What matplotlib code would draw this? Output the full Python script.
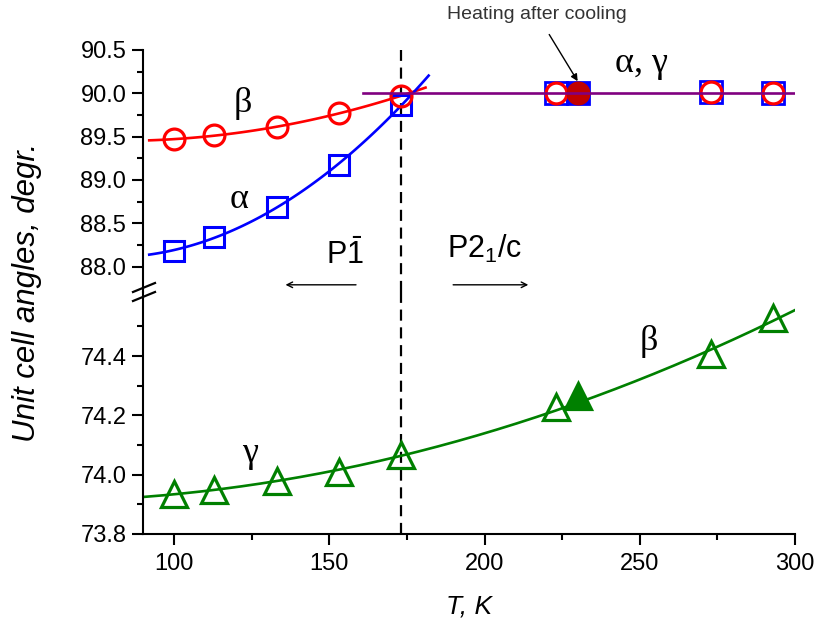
import numpy as np
import matplotlib.pyplot as plt
from matplotlib.ticker import MultipleLocator, FixedLocator

plt.rcParams['font.family'] = ['Liberation Sans', 'DejaVu Sans']
plt.rcParams['mathtext.fontset'] = 'custom'
plt.rcParams['mathtext.rm'] = 'Liberation Sans'
plt.rcParams['mathtext.it'] = 'Liberation Sans:italic'

# triclinic phase (P-1), low temperature
T_low = [100, 113, 133, 153, 173]
beta_low = [89.47, 89.515, 89.61, 89.77, 89.97]
alpha_low = [88.185, 88.34, 88.69, 89.17, 89.86]
gamma_low = [73.935, 73.95, 73.978, 74.009, 74.066]

# monoclinic phase (P21/c), high temperature
T_high = [223, 273, 293]
alpha_high = [90.0, 90.01, 90.0]
gamma_high = [90.0, 90.01, 90.0]
beta_high = [74.227, 74.406, 74.528]

# heating after cooling
T_heat = [230]
alpha_heat = [90.0]
gamma_heat = [90.0]
beta_heat = [74.267]

T_transition = 173
mono_T = [161, 300]
mono_angle = [90.0, 90.0]

top_ticks = [88.0, 88.5, 89.0, 89.5, 90.0, 90.5]
bot_ticks = [73.8, 74.0, 74.2, 74.4]

fig = plt.figure(figsize=(8.21, 6.23), dpi=100)
ax_top = fig.add_axes([0.1742, 1 - 292 / 623, 0.7941, (292 - 50) / 623])
ax_bot = fig.add_axes([0.1742, 1 - 534 / 623, 0.7941, (534 - 292) / 623])

# fit curves (quadratic fits of the measured points)
t1 = np.linspace(92, 181, 100)
p = np.polyfit(T_low, beta_low, 2)
ax_top.plot(t1, np.polyval(p, t1), color='red', lw=1.9, zorder=2)
t2 = np.linspace(92, 182, 100)
p = np.polyfit(T_low, alpha_low, 2)
ax_top.plot(t2, np.polyval(p, t2), color='blue', lw=1.9, zorder=2)
ax_top.plot(mono_T, mono_angle, color='purple', lw=1.9, zorder=4)

T_g = T_low + T_high
g_all = gamma_low + beta_high
t3 = np.linspace(90, 300, 200)
p = np.polyfit(T_g, g_all, 2)
ax_bot.plot(t3, np.polyval(p, t3), color='green', lw=1.9, zorder=2)

# markers
ax_top.plot(T_low, alpha_low, 's', ms=15, mfc='none', mec='blue', mew=2.2, zorder=3)
ax_top.plot(T_low, beta_low, 'o', ms=15, mfc='none', mec='red', mew=2.3, zorder=3)
ax_top.plot(T_high, alpha_high, 's', ms=15.5, mfc='none', mec='blue', mew=2.0, zorder=3)
ax_top.plot(T_heat, alpha_heat, 's', ms=15.5, mfc='blue', mec='blue', mew=2.0, zorder=3)
ax_top.plot(T_high, gamma_high, 'o', ms=15, mfc='none', mec='red', mew=2.3, zorder=3)
ax_top.plot(T_heat, gamma_heat, 'o', ms=15, mfc='#C00000', mec='#C00000', mew=2.3, zorder=3)

ax_bot.plot(T_low, gamma_low, '^', ms=19, mfc='none', mec='green', mew=2.3, zorder=3)
ax_bot.plot(T_high, beta_high, '^', ms=19, mfc='none', mec='green', mew=2.3, zorder=3)
ax_bot.plot(T_heat, beta_heat, '^', ms=19, mfc='green', mec='green', mew=2.3, zorder=3)

for ax in (ax_top, ax_bot):
    ax.axvline(T_transition, color='black', lw=1.6, dashes=(5, 3), zorder=1)
    ax.set_xlim(90, 300)
    ax.spines['top'].set_visible(False)
    ax.spines['right'].set_visible(False)
    ax.spines['left'].set_linewidth(1.5)
    ax.spines['bottom'].set_linewidth(1.5)
    ax.xaxis.set_major_locator(MultipleLocator(50))
    ax.xaxis.set_minor_locator(MultipleLocator(25))
    ax.tick_params(which='major', length=8, width=1.5, labelsize=17, pad=4)
    ax.tick_params(which='minor', length=4, width=1.5)
    ax.patch.set_visible(False)

ax_top.set_ylim(87.707, 90.5)
ax_top.yaxis.set_major_locator(FixedLocator(top_ticks))
ax_top.yaxis.set_minor_locator(FixedLocator([88.25, 88.75, 89.25, 89.75, 90.25]))
ax_top.yaxis.set_major_formatter('{x:.1f}')
ax_top.spines['bottom'].set_visible(False)
ax_top.tick_params(axis='x', which='both', bottom=False, labelbottom=False)

ax_bot.set_ylim(73.8, 74.616)
ax_bot.yaxis.set_major_locator(FixedLocator(bot_ticks))
ax_bot.yaxis.set_minor_locator(FixedLocator([73.9, 74.1, 74.3, 74.5]))
ax_bot.yaxis.set_major_formatter('{x:.1f}')
ax_bot.tick_params(axis='x', which='major', pad=6)

# axis break marks
for dy in (-4.5, 4.5):
    y0 = 1 - (292 + dy) / 623
    fig.add_artist(plt.Line2D([133 / 821, 155 / 821], [y0 - 4.5 / 623, y0 + 4.5 / 623],
                              color='black', lw=1.6))

# labels
ax_bot.set_xlabel('T, K', fontsize=19, style='italic', labelpad=14)
fig.text(27 / 821, 1 - 292 / 623, 'Unit cell angles, degr.', rotation=90, fontsize=22.5,
         style='italic', ha='center', va='center')

serif = dict(family=['Liberation Serif', 'DejaVu Serif'], fontsize=26, ha='center', va='center')
ax_top.text(122, 89.88, 'β', **serif)
ax_top.text(121, 88.78, 'α', **serif)
ax_top.text(250.5, 90.34, 'α, γ', **serif)
ax_bot.text(253, 74.45, 'β', **serif)
ax_bot.text(124.4, 74.07, 'γ', **serif)

ax_top.text(155, 88.13, r'P$\mathregular{\bar{1}}$', fontsize=22, ha='center', va='center')
ax_top.text(188, 88.2, r'P2$_1$/c', fontsize=22, ha='left', va='center')
ax_top.annotate('', xy=(135, 87.79), xytext=(159.5, 87.79),
                arrowprops=dict(arrowstyle='->', color='black', lw=1.0))
ax_top.annotate('', xy=(215, 87.79), xytext=(189, 87.79),
                arrowprops=dict(arrowstyle='->', color='black', lw=1.0))
ax_top.annotate('Heating after cooling', xy=(230, 90.14), xytext=(217, 90.905),
                fontsize=14, color='#333333', ha='center', va='center',
                annotation_clip=False,
                arrowprops=dict(arrowstyle='-|>', color='black', lw=1.0, shrinkA=7,
                                shrinkB=0, mutation_scale=10))

plt.savefig('out.png', dpi=100)
